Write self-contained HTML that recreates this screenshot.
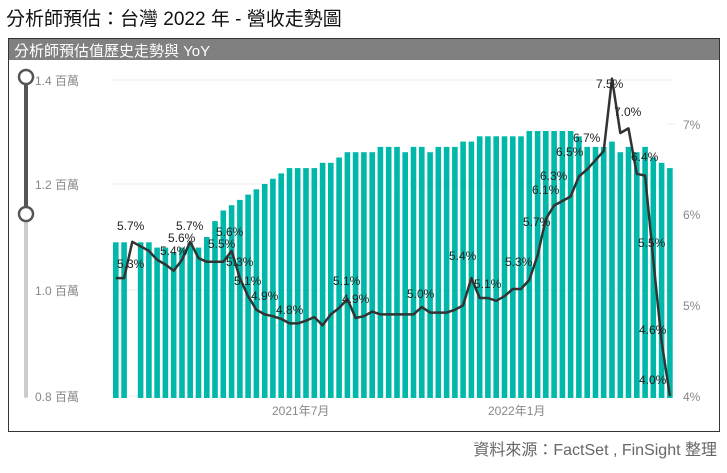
<!DOCTYPE html>
<html><head><meta charset="utf-8"><style>
body{margin:0;width:727px;height:468px;background:#fff;overflow:hidden;font-family:"Liberation Sans","Noto Sans CJK TC",sans-serif;}
</style></head><body>
<svg id="s" width="727" height="468" xmlns="http://www.w3.org/2000/svg" font-family="Liberation Sans, Noto Sans CJK TC, sans-serif">
<text x="6" y="25" font-size="19" fill="#111">分析師預估：台灣 2022 年 - 營收走勢圖</text>
<rect x="8.5" y="38.5" width="711" height="393" fill="#fff" stroke="#333" stroke-width="1"/>
<rect x="9" y="39" width="710" height="21" fill="#808080"/>
<text x="14" y="56" font-size="15" fill="#fff">分析師預估值歷史走勢與 YoY</text>
<g fill="#888" font-size="12">
<text x="35" y="85">1.4 百萬</text><text x="35" y="189">1.2 百萬</text>
<text x="35" y="295">1.0 百萬</text><text x="35" y="401">0.8 百萬</text>
<text x="683" y="129">7%</text><text x="683" y="219">6%</text>
<text x="683" y="310">5%</text><text x="683" y="401">4%</text>
<text x="272" y="415">2021年7月</text><text x="488" y="415">2022年1月</text>
</g>
<g stroke="#eee" stroke-width="1">
<line x1="112" y1="80" x2="672" y2="80"/><line x1="112" y1="184" x2="672" y2="184"/>
<line x1="112" y1="290" x2="672" y2="290"/><line x1="112" y1="396" x2="672" y2="396"/>
<line x1="667" y1="124" x2="675" y2="124"/>
</g>
<line x1="26" y1="78" x2="26" y2="396" stroke="#ccc" stroke-width="4" stroke-linecap="round"/>
<line x1="26" y1="78" x2="26" y2="214" stroke="#555" stroke-width="4"/>
<circle cx="26" cy="77" r="7" fill="#fff" stroke="#555" stroke-width="2.5"/>
<circle cx="26" cy="214" r="7" fill="#fff" stroke="#555" stroke-width="2.5"/>
<g id="bars" fill="#00b8a9"></g>
<polyline id="ln" fill="none" stroke="#333" stroke-width="2.5" stroke-linejoin="round"/>
<g id="lb" font-size="12" fill="#222"></g>
<text x="717" y="455" font-size="16" fill="#666" text-anchor="end">資料來源：FactSet , FinSight 整理</text>
</svg>
<script>
var b=[1.09,1.09,0,1.09,1.09,1.08,1.08,1.07,1.08,1.09,1.08,1.10,1.13,1.15,1.16,1.17,1.18,1.19,1.20,1.21,1.22,1.23,1.23,1.23,1.23,1.24,1.24,1.25,1.26,1.26,1.26,1.26,1.27,1.27,1.27,1.26,1.27,1.27,1.26,1.27,1.27,1.27,1.28,1.28,1.29,1.29,1.29,1.29,1.29,1.29,1.30,1.30,1.30,1.30,1.30,1.30,1.29,1.27,1.27,1.27,1.28,1.26,1.27,1.26,1.27,1.25,1.24,1.23];
var v=[5.3,5.3,5.7,5.65,5.6,5.5,5.45,5.38,5.5,5.7,5.52,5.48,5.48,5.48,5.6,5.3,5.1,4.95,4.9,4.88,4.85,4.8,4.8,4.83,4.87,4.78,4.9,4.97,5.07,4.86,4.88,4.93,4.9,4.9,4.9,4.9,4.9,4.98,4.92,4.92,4.92,4.95,5.0,5.3,5.08,5.08,5.05,5.1,5.18,5.18,5.28,5.55,5.95,6.1,6.15,6.2,6.42,6.5,6.6,6.7,7.5,6.9,6.95,6.45,6.43,5.5,4.6,4.0];
var g=document.getElementById('bars'),p=[],h='';
for(var i=0;i<68;i++){var x=113+i*8.27;if(b[i]){var y=396-(b[i]-0.8)/0.2*106;h+='<rect x="'+x.toFixed(1)+'" y="'+y.toFixed(1)+'" width="5.6" height="'+(398-y).toFixed(1)+'"/>';}
p.push((x+2.8).toFixed(1)+','+(396-(v[i]-4)*90.7).toFixed(1));}
g.innerHTML=h;document.getElementById('ln').setAttribute('points',p.join(' '));
var L=[[117,268,'5.3%'],[117,230,'5.7%'],[160,255,'5.4%'],[168,242,'5.6%'],[176,230,'5.7%'],[216,236,'5.6%'],[208,248,'5.5%'],[226,266,'5.3%'],[234,285,'5.1%'],[251,300,'4.9%'],[276,314,'4.8%'],[333,285,'5.1%'],[342,303,'4.9%'],[407,298,'5.0%'],[449,260,'5.4%'],[474,288,'5.1%'],[505,266,'5.3%'],[523,226,'5.7%'],[532,194,'6.1%'],[540,180,'6.3%'],[556,156,'6.5%'],[573,142,'6.7%'],[596,88,'7.5%'],[614,116,'7.0%'],[631,161,'6.4%'],[638,247,'5.5%'],[639,334,'4.6%'],[639,384,'4.0%']];
var t='';L.forEach(function(a){t+='<text x="'+a[0]+'" y="'+a[1]+'">'+a[2]+'</text>';});
document.getElementById('lb').innerHTML=t;
</script>
</body></html>
